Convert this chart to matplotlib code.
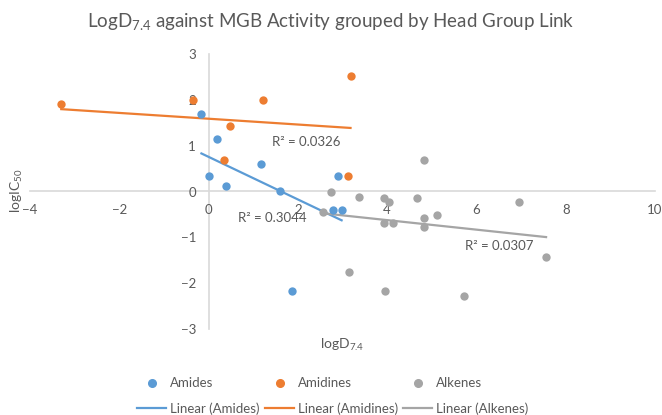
import matplotlib
matplotlib.use("Agg")
import matplotlib.pyplot as plt
from matplotlib.lines import Line2D
import numpy as np

plt.rcParams['font.family'] = ['Lato', 'DejaVu Sans']
plt.rcParams['mathtext.fontset'] = 'custom'
plt.rcParams['mathtext.rm'] = 'Lato'
plt.rcParams['mathtext.it'] = 'Lato:italic'

# Data
amides_x = [-0.16, 0.18, 0.00, 0.38, 1.17, 1.61, 2.89, 2.78, 2.98, 1.86]
amides_y = [1.68, 1.14, 0.33, 0.13, 0.59, 0.00, 0.33, -0.41, -0.41, -2.18]
amidines_x = [-3.30, -0.36, 1.21, 0.47, 0.34, 3.18, 3.12]
amidines_y = [1.90, 1.99, 1.99, 1.42, 0.68, 2.51, 0.33]
alkenes_x = [2.74, 3.36, 3.92, 4.04, 4.66, 4.82, 6.95, 2.56, 3.92, 4.13,
             4.82, 4.82, 5.11, 7.56, 3.14, 3.95, 5.72]
alkenes_y = [-0.02, -0.11, -0.15, -0.22, -0.15, 0.68, -0.22, -0.44, -0.68, -0.68,
             -0.57, -0.77, -0.52, -1.42, -1.75, -2.16, -2.29]
r2_labels = ["R² = 0.3044", "R² = 0.0326", "R² = 0.0307"]
series_names = ["Amides", "Amidines", "Alkenes"]
x_ticks = [-4, -2, 0, 2, 4, 6, 8, 10]
y_ticks = [-3, -2, -1, 0, 1, 2, 3]

colors = ['#5B9BD5', '#ED7D31', '#A5A5A5']
txt = '#595959'

fig = plt.figure(figsize=(6.62, 4.15), dpi=100)
ax = fig.add_axes([30/662, 1-329/415, 625/662, 275/415])

series = [(amides_x, amides_y), (amidines_x, amidines_y), (alkenes_x, alkenes_y)]
r2_pos = [(272, 218), (306, 142), (499, 246)]
handles_pts = []
handles_lines = []
for (xs, ys), c, name, lab, pos in zip(series, colors, series_names, r2_labels, r2_pos):
    xs = np.array(xs); ys = np.array(ys)
    ax.scatter(xs, ys, s=36, color=c, zorder=3, linewidths=0)
    m, b = np.polyfit(xs, ys, 1)
    xx = np.array([xs.min(), xs.max()])
    ax.plot(xx, m*xx + b, color=c, lw=1.6, zorder=2)
    fig.text(pos[0]/662, 1-pos[1]/415, lab, ha='center', va='center', fontsize=9.5, color=txt)
    handles_pts.append(Line2D([], [], marker='o', ls='none', color=c, markersize=5.5))
    handles_lines.append(Line2D([], [], color=c, lw=1.6))

ax.set_xlim(-4, 10)
ax.set_ylim(-3, 3)
ax.set_xticks(x_ticks)
ax.set_yticks(y_ticks)
ax.spines['left'].set_position(('data', 0))
ax.spines['bottom'].set_position(('data', 0))
ax.spines['top'].set_visible(False)
ax.spines['right'].set_visible(False)
for s in ['left', 'bottom']:
    ax.spines[s].set_color('#D9D9D9')
    ax.spines[s].set_linewidth(1.2)
    ax.spines[s].set_zorder(1)
ax.tick_params(length=0, labelsize=9.5, labelcolor=txt, pad=9)
ax.patch.set_visible(False)

fig.text(0.5, 1-22/415, r'LogD$_{\mathrm{7.4}}$ against MGB Activity grouped by Head Group Link',
         ha='center', va='center', fontsize=13.5, color=txt)
fig.text(17/662, 1-191/415, r'logIC$_{\mathrm{50}}$', rotation=90, ha='center', va='center',
         fontsize=10, color=txt)
fig.text(342/662, 1-345/415, r'logD$_{\mathrm{7.4}}$', ha='center', va='center',
         fontsize=10, color=txt)

handles = []
labels = []
for i in range(3):
    handles += [handles_pts[i], handles_lines[i]]
    labels += [series_names[i], 'Linear (%s)' % series_names[i]]
fig.legend(handles, labels, ncol=3, loc='center', bbox_to_anchor=(333/662, 1-396/415),
           frameon=False, fontsize=9.5, labelcolor=txt, handlelength=2.2, handletextpad=0.3,
           columnspacing=0.4, labelspacing=1.0)

fig.savefig('out.png', dpi=100)
